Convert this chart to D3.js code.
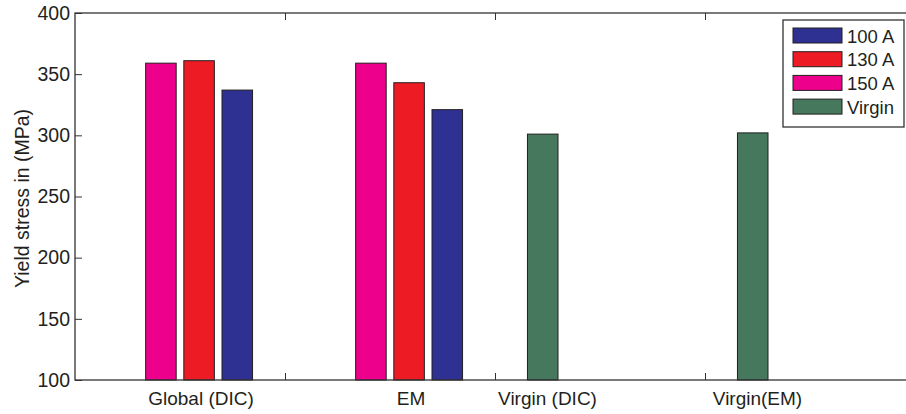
<!DOCTYPE html>
<html>
<head>
<meta charset="utf-8">
<script src="https://cdn.jsdelivr.net/npm/d3@7"></script>
<style>
  body { margin: 0; background: #fff; }
  svg text { font-family: "Liberation Sans", Arial, sans-serif; fill: #231f20; }
</style>
</head>
<body>
<div id="chart"></div>
<script>
// data
const categories = ["Global (DIC)", "EM", "Virgin (DIC)", "Virgin(EM)"];
const groupPos = [0.5, 1.5, 2.5, 3.5];
const labelPos = [0.6, 1.6, 2.25, 3.25];

const seriesNames = ["Virgin", "150 A", "130 A", "100 A"];
const virgin = [null, null, 301, 302];
const a150 = [359, 359, null, null];
const a130 = [361, 343, null, null];
const a100 = [337, 321, null, null];

const legendOrder = ["100 A", "130 A", "150 A", "Virgin"];
const yTicks = [100, 150, 200, 250, 300, 350, 400];
const xTicks = [1, 2, 3];

const colors = {
    "Virgin": "#45785c",
    "150 A": "#ec008c",
    "130 A": "#ed1c24",
    "100 A": "#2e3192"
};

const width = 906;
const height = 414;
const margin = { top: 13, right: -9, bottom: 34, left: 75 };
const fontSize = 19;

const svg = d3.select("#chart")
    .append("svg")
    .attr("width", width)
    .attr("height", height);

const x = d3.scaleLinear()
    .domain([0, 4])
    .range([margin.left, width - margin.right]);

const y = d3.scaleLinear()
    .domain([100, 400])
    .range([height - margin.bottom, margin.top]);

// MATLAB style grouped bars: 4 series, group width 4/5.5
const n = seriesNames.length;
const groupWidth = n / (n + 1.5);
const slot = groupWidth / n;
const barW = x(slot * 0.8) - x(0);

const seriesValues = [virgin, a150, a130, a100];

const bars = [];
seriesValues.forEach((vals, si) => {
    vals.forEach((v, gi) => {
        if (v == null) return;
        const center = groupPos[gi] - groupWidth / 2 + slot / 2 + si * slot;
        bars.push({ name: seriesNames[si], value: v, center: center });
    });
});

svg.append("g")
    .selectAll("rect")
    .data(bars)
    .enter()
    .append("rect")
    .attr("x", d => x(d.center) - barW / 2)
    .attr("y", d => y(d.value))
    .attr("width", barW)
    .attr("height", d => y(100) - y(d.value))
    .attr("fill", d => colors[d.name])
    .attr("stroke", "#231f20")
    .attr("stroke-width", 1);

// axes box
const axisColor = "#333";
const x0 = x(0), x1 = x(4), yTop = y(400), yBot = y(100);

svg.append("rect")
    .attr("x", x0).attr("y", yTop)
    .attr("width", x1 - x0).attr("height", yBot - yTop)
    .attr("fill", "none")
    .attr("stroke", axisColor)
    .attr("stroke-width", 1.3);

const yAxis = d3.axisLeft(y).tickValues(yTicks).tickSize(-7).tickPadding(5);
svg.append("g")
    .attr("transform", `translate(${x0},0)`)
    .call(yAxis)
    .call(g => g.select(".domain").remove())
    .call(g => g.selectAll("line").attr("stroke", axisColor))
    .call(g => g.selectAll("text").attr("font-size", fontSize + 0.5).attr("fill", "#231f20"));

svg.append("g")
    .attr("transform", `translate(0,${yBot})`)
    .call(d3.axisBottom(x).tickValues(xTicks).tickSize(-7).tickFormat(""))
    .call(g => g.select(".domain").remove())
    .call(g => g.selectAll("line").attr("stroke", axisColor));

svg.append("g")
    .attr("transform", `translate(0,${yTop})`)
    .call(d3.axisTop(x).tickValues(xTicks).tickSize(-7).tickFormat(""))
    .call(g => g.select(".domain").remove())
    .call(g => g.selectAll("line").attr("stroke", axisColor));

// category labels
svg.append("g")
    .selectAll("text")
    .data(categories)
    .enter()
    .append("text")
    .attr("x", (d, i) => x(labelPos[i]))
    .attr("y", 405)
    .attr("text-anchor", "middle")
    .attr("font-size", fontSize)
    .text(d => d);

// y label
svg.append("text")
    .attr("transform", `translate(29,${(yTop + yBot) / 2 + 2}) rotate(-90)`)
    .attr("text-anchor", "middle")
    .attr("font-size", fontSize + 0.5)
    .text("Yield stress in (MPa)");

// legend
const legend = svg.append("g").attr("transform", "translate(783,20)");
legend.append("rect")
    .attr("width", 121).attr("height", 107)
    .attr("fill", "#fff")
    .attr("stroke", axisColor)
    .attr("stroke-width", 1.3);

const rows = legend.selectAll(".row")
    .data(legendOrder)
    .enter()
    .append("g")
    .attr("transform", (d, i) => `translate(10,${8 + i * 23.7})`);

rows.append("rect")
    .attr("width", 49).attr("height", 15)
    .attr("fill", d => colors[d])
    .attr("stroke", "#231f20");

rows.append("text")
    .attr("x", 54)
    .attr("y", 14.5)
    .attr("font-size", 18.5)
    .text(d => d);
</script>
</body>
</html>
